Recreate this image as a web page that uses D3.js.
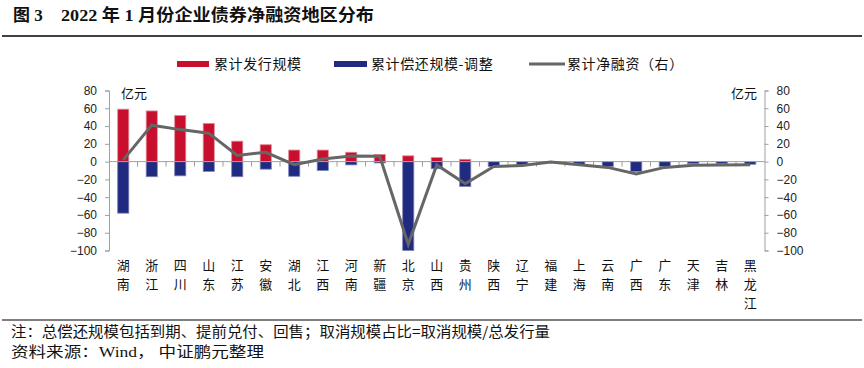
<!DOCTYPE html>
<html><head><meta charset="utf-8">
<script src="https://cdn.jsdelivr.net/npm/d3@7/dist/d3.min.js"></script>
<style>
body{margin:0;background:#fff;}
svg{display:block;font-family:"Noto Sans CJK SC",sans-serif;}
</style></head>
<body><svg id="c" width="864" height="368"></svg>
<script>
const categories = ["湖南","浙江","四川","山东","江苏","安徽","湖北","江西","河南","新疆","北京","山西","贵州","陕西","辽宁","福建","上海","云南","广西","广东","天津","吉林","黑龙江"];
const issue = [59,57,52,43,23,19,13,13,10.5,8,6.5,4.5,2.6,0,0,0,0,0,0,0,0,0,0];
const repay = [-58,-17,-16,-11,-17,-8.5,-16.5,-10,-3.7,-1.5,-100,-8,-28,-5.6,-3.7,-1,-3.4,-5.6,-11,-5.6,-2.3,-2.3,-3];
const net = [2,41,36,32,7,10.5,-3.4,3,6.4,6,-93,-3.7,-25,-5.6,-4.5,-0.5,-3.4,-6.5,-14,-6.5,-4,-3.7,-3.4];
const yTicks = [80,60,40,20,0,-20,-40,-60,-80,-100];
const seriesNames = ["累计发行规模","累计偿还规模-调整","累计净融资（右）"];
const titleA = "图 3", titleB = "2022 年 1 月份企业债券净融资地区分布";
const note = "注：总偿还规模包括到期、提前兑付、回售；取消规模占比=取消规模/总发行量";
const sourceParts = ["资料来源：","Wind","， 中证鹏元整理"];
const unit = "亿元";

const RED="#c8102e", BLUE="#1f2a80", GRAY="#666666", AX="#a0a0a0";
const svg = d3.select("#c");
const L=109, R=764.5, T=90.5, B=250.5;

// title
svg.append("text").attr("x",13).attr("y",21).attr("font-family","'Liberation Serif','Noto Sans CJK SC'")
  .attr("font-weight","bold").attr("font-size",17).attr("fill","#111").text(titleA);
svg.append("text").attr("x",61).attr("y",21).attr("font-family","'Liberation Serif','Noto Sans CJK SC'")
  .attr("font-weight","bold").attr("font-size",17).attr("fill","#111")
  .attr("textLength",313).attr("lengthAdjust","spacingAndGlyphs").text(titleB);
svg.append("line").attr("x1",2).attr("x2",862).attr("y1",36).attr("y2",36).attr("stroke","#000").attr("stroke-width",1.5);

const x = d3.scaleBand().domain(categories).range([L,R]).padding(0);
const y = d3.scaleLinear().domain([-100,80]).range([B,T]);
const bw = x.bandwidth()*0.39;
const cx = c => x(c)+x.bandwidth()/2;

// bars
const g = svg.append("g");
g.selectAll(".r").data(categories).join("rect")
  .attr("x",(c)=>cx(c)-bw/2).attr("width",bw)
  .attr("y",(c,i)=>y(Math.max(0,issue[i]))).attr("height",(c,i)=>Math.abs(y(issue[i])-y(0)))
  .attr("fill",RED).attr("stroke",(c,i)=>issue[i]?"#e08a95":"none").attr("stroke-width",0.8);
g.selectAll(".b").data(categories).join("rect")
  .attr("x",(c)=>cx(c)-bw/2).attr("width",bw)
  .attr("y",y(0)).attr("height",(c,i)=>Math.abs(y(repay[i])-y(0)))
  .attr("fill",BLUE).attr("stroke","#7d84b8").attr("stroke-width",0.8);

// zero axis with ticks at band boundaries
const za = svg.append("g");
za.append("line").attr("x1",L).attr("x2",R).attr("y1",y(0)).attr("y2",y(0)).attr("stroke",AX).attr("stroke-width",1);
za.selectAll("line.t").data(categories.slice(1)).join("line").attr("class","t")
  .attr("x1",c=>x(c)).attr("x2",c=>x(c)).attr("y1",y(0)).attr("y2",y(0)+5).attr("stroke",AX);

// line
const line = d3.line().x((d,i)=>cx(categories[i])).y(d=>y(d));
svg.append("path").datum(net).attr("d",line).attr("fill","none").attr("stroke",GRAY).attr("stroke-width",3).attr("stroke-linejoin","miter");

// axes
function styleAxis(sel){
  sel.selectAll("path").attr("stroke",AX);
  sel.selectAll("line").attr("stroke",AX);
  sel.selectAll("text").attr("font-family","'Liberation Sans',Arial,sans-serif").attr("font-size",12).attr("fill","#222");
}
const yl = svg.append("g").attr("transform",`translate(${L},0)`)
  .call(d3.axisLeft(y).tickValues(yTicks).tickSize(4).tickSizeOuter(4).tickPadding(8));
styleAxis(yl);
const yr = svg.append("g").attr("transform",`translate(${R},0)`)
  .call(d3.axisRight(y).tickValues(yTicks).tickSize(4).tickSizeOuter(4).tickPadding(8));
styleAxis(yr);

svg.append("text").attr("x",121).attr("y",98).attr("font-size",13).attr("fill","#111").text(unit);
svg.append("text").attr("x",757).attr("y",98).attr("text-anchor","end").attr("font-size",13).attr("fill","#111").text(unit);

// x labels
const xl = svg.append("g");
categories.forEach(c=>{
  const t = xl.append("text").attr("text-anchor","middle").attr("font-size",13).attr("fill","#111");
  [...c].forEach((ch,k)=>t.append("tspan").attr("x",cx(c)).attr("y",270+k*19).text(ch));
});

// legend
const lg = svg.append("g");
lg.append("rect").attr("x",177).attr("y",61).attr("width",32).attr("height",6).attr("fill",RED);
lg.append("text").attr("x",214).attr("y",69).attr("font-size",14).attr("letter-spacing",0.6).attr("fill","#111").text(seriesNames[0]);
lg.append("rect").attr("x",334).attr("y",61).attr("width",33).attr("height",6).attr("fill",BLUE);
lg.append("text").attr("x",371).attr("y",69).attr("font-size",14).attr("letter-spacing",0.6).attr("fill","#111").text(seriesNames[1]);
lg.append("line").attr("x1",529).attr("x2",565).attr("y1",64).attr("y2",64).attr("stroke",GRAY).attr("stroke-width",3);
lg.append("text").attr("x",567).attr("y",69).attr("font-size",14).attr("letter-spacing",0.6).attr("fill","#111").text(seriesNames[2]);

// footer
svg.append("line").attr("x1",2).attr("x2",862).attr("y1",320).attr("y2",320).attr("stroke","#000").attr("stroke-width",1.2);
svg.append("text").attr("x",11).attr("y",337).attr("font-size",14.5).attr("fill","#111")
  .attr("textLength",539).attr("lengthAdjust","spacingAndGlyphs").text(note);
const st = svg.append("text").attr("x",11).attr("y",357).attr("font-size",14.5).attr("fill","#111")
  .attr("textLength",253).attr("lengthAdjust","spacingAndGlyphs");
st.append("tspan").text(sourceParts[0]);
st.append("tspan").attr("font-family","'Liberation Serif',serif").text(sourceParts[1]);
st.append("tspan").text(sourceParts[2]);
</script></body></html>
